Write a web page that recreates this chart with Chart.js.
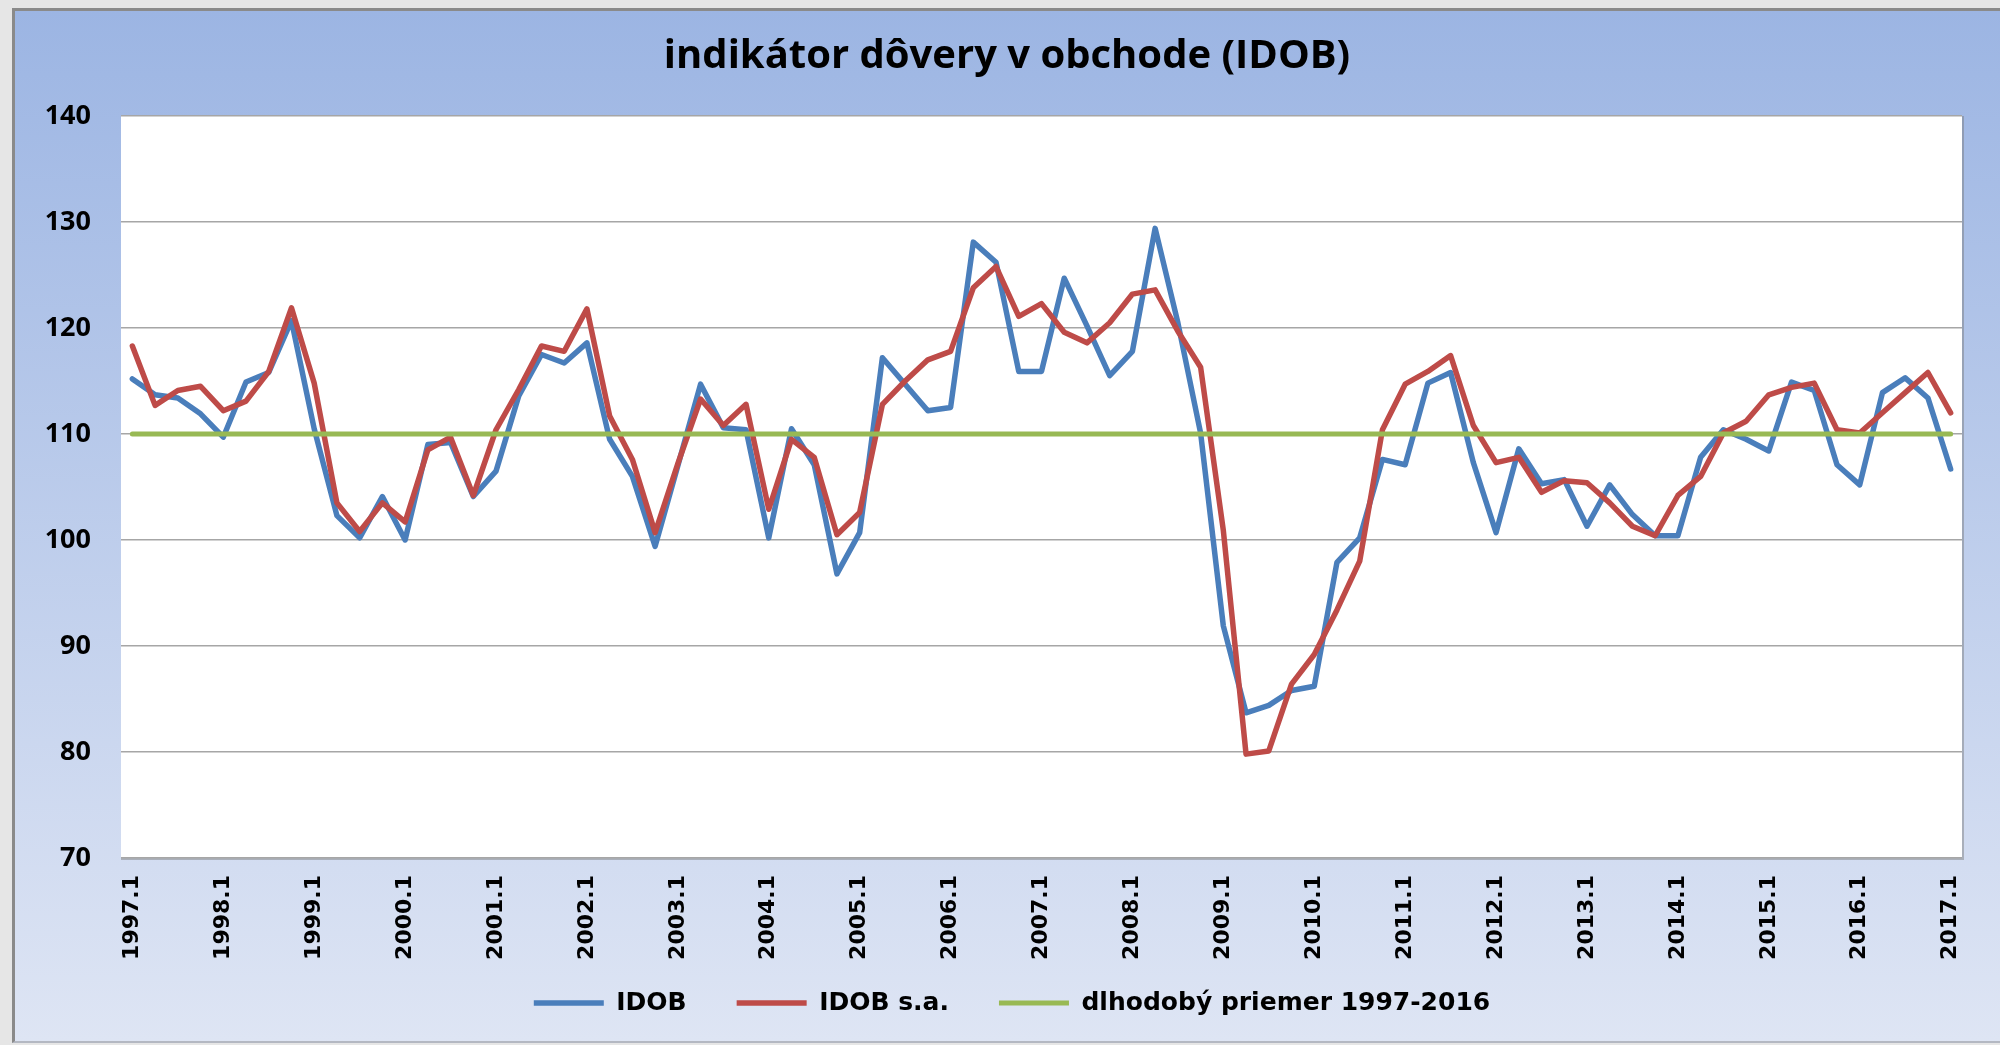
<!DOCTYPE html>
<html>
<head>
<meta charset="utf-8">
<script src="https://cdn.jsdelivr.net/npm/chart.js@4.4.1/dist/chart.umd.min.js"></script>
<style>
	body { margin: 0; background: #e6e6e6; width: 2000px; height: 1045px; overflow: hidden; }
	#panel {
		position: absolute; left: 12px; top: 8px; width: 1988px; height: 1035px;
		box-sizing: border-box;
		border-left: 3px solid #8a8a8a; border-top: 3px solid #8a8a8a; border-bottom: 2px solid #b4b8c2;
		background: linear-gradient(#9cb5e3, #dee5f4);
	}
	#idob-chart { position: absolute; left: 0; top: 0; }
</style>
</head>
<body>
<div id="panel"></div>
<canvas id="idob-chart" width="2000" height="1045"></canvas>
<script>
// quarters 1997.1 .. 2017.1
const firstYear = 1997;
const lastYear = 2017;

// indikátor dôvery v obchode
const idob = [
	115.2, 113.7, 113.4, 111.9, 109.7, 114.9, 115.8, 120.7,
	110.5, 102.3, 100.2, 104.1, 100.0, 109.0, 109.2, 104.1,
	106.5, 113.6, 117.5, 116.7, 118.6, 109.5, 106.0, 99.4,
	107.0, 114.7, 110.6, 110.4, 100.2, 110.5, 107.1, 96.8,
	100.7, 117.2, 114.7, 112.2, 112.5, 128.1, 126.2, 115.9,
	115.9, 124.7, 120.2, 115.5, 117.8, 129.4, 120.5, 110.1,
	91.9, 83.7, 84.4, 85.8, 86.2, 97.9, 100.2, 107.6,
	107.1, 114.8, 115.8, 107.3, 100.7, 108.6, 105.3, 105.7,
	101.3, 105.2, 102.4, 100.4, 100.4, 107.8, 110.4, 109.5,
	108.4, 114.9, 114.1, 107.1, 105.2, 113.9, 115.3, 113.4,
	106.7
];

// sezónne očistený
const idobSa = [
	118.3, 112.7, 114.1, 114.5, 112.2, 113.1, 115.9, 121.9,
	114.8, 103.5, 100.8, 103.5, 101.7, 108.5, 109.7, 104.2,
	110.4, 114.2, 118.3, 117.8, 121.8, 111.7, 107.6, 100.7,
	107.2, 113.3, 110.8, 112.8, 102.9, 109.5, 107.8, 100.5,
	102.6, 112.8, 115.0, 117.0, 117.8, 123.8, 125.8, 121.1,
	122.3, 119.6, 118.6, 120.5, 123.2, 123.6, 119.7, 116.3,
	100.9, 79.8, 80.1, 86.4, 89.2, 93.4, 98.0, 110.4,
	114.7, 115.9, 117.4, 110.8, 107.3, 107.8, 104.5, 105.6,
	105.4, 103.5, 101.3, 100.4, 104.2, 106.0, 110.1, 111.2,
	113.7, 114.4, 114.8, 110.4, 110.1, 112.0, 113.9, 115.8,
	112.0
];

// dlhodobý priemer 1997-2016
const longAverage = 110;

const yMin = 70;
const yMax = 140;
const yStep = 10;

let quarterLabels = [];
for(let year = firstYear; year <= lastYear; year++)
	for(let q = 1; q <= 4; q++)
		if(year < lastYear || q == 1)
			quarterLabels.push(year + "." + q);

const averageLine = quarterLabels.map(() => longAverage);

// white plot area on top of the panel gradient
const plotBackground = {
	id: "plotBackground",
	beforeDraw(chart)
	{
		const area = chart.chartArea;
		const ctx = chart.ctx;
		ctx.save();
		ctx.fillStyle = "#ffffff";
		ctx.fillRect(area.left, area.top, area.right - area.left, area.bottom - area.top);
		ctx.strokeStyle = "rgba(120,120,120,0.45)";
		ctx.lineWidth = 2;
		ctx.beginPath();
		ctx.moveTo(area.right + 1, area.top);
		ctx.lineTo(area.right + 1, area.bottom + 1);
		ctx.lineTo(area.left, area.bottom + 1);
		ctx.stroke();
		ctx.restore();
	}
};

// title and legend sit a little off the default layout slots
const nudgeBoxes = {
	id: "nudgeBoxes",
	afterLayout(chart)
	{
		const legend = chart.legend;
		legend.left += 12;
		legend.right += 12;
		legend.top -= 19.5;
		legend.bottom -= 19.5;
		chart.titleBlock.left += 7;
		chart.titleBlock.right += 7;
	}
};

new Chart(document.getElementById("idob-chart").getContext("2d"),
{
	type: "line",
	data:
	{
		labels: quarterLabels,
		datasets:
		[{
			label: "IDOB",
			data: idob,
			borderColor: "#4a7ebb",
			backgroundColor: "#4a7ebb",
			borderWidth: 5.5,
			order: 3
		},
		{
			label: "IDOB s.a.",
			data: idobSa,
			borderColor: "#be4b48",
			backgroundColor: "#be4b48",
			borderWidth: 5.5,
			order: 2
		},
		{
			label: "dlhodobý priemer 1997-2016",
			data: averageLine,
			borderColor: "#98b954",
			backgroundColor: "#98b954",
			borderWidth: 5,
			order: 1
		}]
	},
	options:
	{
		responsive: false,
		animation: false,
		devicePixelRatio: 1,
		datasets:
		{
			line:
			{
				pointRadius: 0,
				tension: 0,
				borderCapStyle: "round",
				borderJoinStyle: "round"
			}
		},
		layout: { padding: { left: 38, right: 38, top: 0, bottom: 0 } },
		plugins:
		{
			title:
			{
				display: true,
				text: "indikátor dôvery v obchode (IDOB)",
				color: "#000000",
				font: { family: "'Open Sans', sans-serif", size: 40, weight: "bold" },
				padding: { top: 33, bottom: 35 }
			},
			legend:
			{
				position: "bottom",
				labels:
				{
					usePointStyle: true,
					pointStyle: "line",
					pointStyleWidth: 70,
					padding: 50,
					color: "#000000",
					font: { family: "'DejaVu Sans', sans-serif", size: 25, weight: "bold" },
					sort: (a, b) => a.datasetIndex - b.datasetIndex
				}
			},
			tooltip: { enabled: false }
		},
		scales:
		{
			x:
			{
				offset: true,
				afterFit: (scale) => { scale.height = 102; },
				grid: { display: false, drawTicks: false },
				border: { display: false },
				ticks:
				{
					autoSkip: false,
					maxRotation: 90,
					minRotation: 90,
					padding: 17,
					color: "#000000",
					font: { family: "'DejaVu Sans', sans-serif", size: 22, weight: "bold" },
					callback: (value, index) => index % 4 == 0 ? quarterLabels[index] : ""
				}
			},
			y:
			{
				min: yMin,
				max: yMax,
				afterFit: (scale) => { scale.width = 83; },
				grid: { color: "#a6a6a6", lineWidth: 1.5, drawTicks: false },
				border: { display: false },
				ticks:
				{
					stepSize: yStep,
					padding: 30,
					color: "#000000",
					font: { family: "'Open Sans', sans-serif", size: 27, weight: "bold" }
				}
			}
		}
	},
	plugins: [plotBackground, nudgeBoxes]
});
</script>
</body>
</html>
